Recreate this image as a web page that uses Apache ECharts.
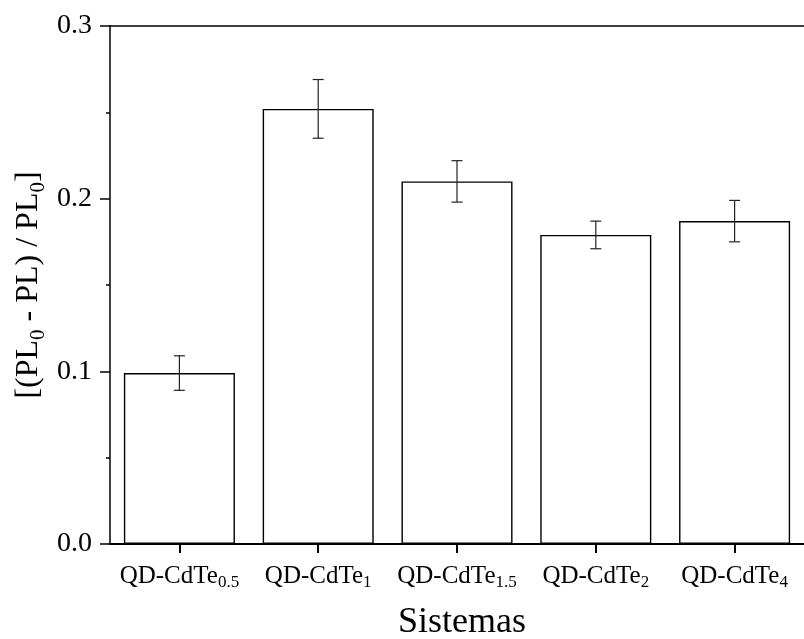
<!DOCTYPE html>
<html>
<head>
<meta charset="utf-8">
<script src="https://cdn.jsdelivr.net/npm/echarts@6/dist/echarts.min.js"></script>
<style>html,body{margin:0;padding:0;background:#fff}#c{width:804px;height:639px}</style>
</head>
<body>
<div id="c"></div>
<script>
var categories = ['QD-CdTe{s|0.5}', 'QD-CdTe{s|1}', 'QD-CdTe{s|1.5}', 'QD-CdTe{s|2}', 'QD-CdTe{s|4}'];
var values = [0.099, 0.252, 0.210, 0.179, 0.187];
var errors = [0.010, 0.017, 0.012, 0.008, 0.012];
var yTicks = [0.0, 0.1, 0.2, 0.3];

var FONT = '"Liberation Serif", "Times New Roman", serif';
var chart = echarts.init(document.getElementById('c'));
var errData = values.map(function (v, i) { return [i, v - errors[i], v + errors[i]]; });

chart.setOption({
  animation: false,
  grid: { left: 110, top: 26, width: 703, height: 518 },
  xAxis: [{
    type: 'category',
    data: categories,
    boundaryGap: true,
    axisLine: { show: true, lineStyle: { color: '#000', width: 2 } },
    axisTick: { show: true, alignWithLabel: true, length: 9, lineStyle: { color: '#000', width: 2 } },
    axisLabel: {
      interval: 0,
      hideOverlap: false,
      margin: 17,
      color: '#000',
      fontFamily: FONT,
      fontSize: 25,
      lineHeight: 30,
      rich: {
        s: { fontFamily: FONT, fontSize: 17, color: '#000', verticalAlign: 'bottom', lineHeight: 20, padding: [14, 0, 0, 0] }
      }
    },
    splitLine: { show: false }
  }, {
    type: 'category',
    data: categories,
    position: 'top',
    axisLine: { show: true, lineStyle: { color: '#000', width: 1.5 } },
    axisTick: { show: false },
    axisLabel: { show: false }
  }],
  yAxis: {
    type: 'value',
    min: 0,
    max: 0.3,
    interval: 0.1,
    axisLine: { show: true, lineStyle: { color: '#000', width: 1.5 } },
    axisTick: { show: true, length: 10, lineStyle: { color: '#000', width: 1.5 } },
    minorTick: { show: true, splitNumber: 2, length: 4, lineStyle: { color: '#000', width: 1.5 } },
    axisLabel: {
      margin: 18,
      color: '#000',
      fontFamily: FONT,
      fontSize: 28,
      formatter: function (v) {
        for (var i = 0; i < yTicks.length; i++) { if (Math.abs(yTicks[i] - v) < 1e-9) return yTicks[i].toFixed(1); }
        return '';
      }
    },
    splitLine: { show: false }
  },
  series: [{
    type: 'bar',
    data: values,
    barWidth: '80%',
    itemStyle: { color: '#fff', borderColor: '#000', borderWidth: 1.4 },
    z: 2
  }, {
    type: 'custom',
    data: errData,
    z: 3,
    renderItem: function (params, api) {
      var x = api.value(0);
      var lo = api.coord([x, api.value(1)]);
      var hi = api.coord([x, api.value(2)]);
      var hw = 5.5;
      var st = { stroke: '#222', lineWidth: 1.2 };
      return {
        type: 'group',
        children: [
          { type: 'line', shape: { x1: lo[0], y1: lo[1], x2: hi[0], y2: hi[1] }, style: st },
          { type: 'line', shape: { x1: lo[0] - hw, y1: lo[1], x2: lo[0] + hw, y2: lo[1] }, style: st },
          { type: 'line', shape: { x1: hi[0] - hw, y1: hi[1], x2: hi[0] + hw, y2: hi[1] }, style: st }
        ]
      };
    },
    encode: { x: 0, y: [1, 2] }
  }],
  graphic: [{
    type: 'text',
    x: 29,
    y: 285,
    rotation: Math.PI / 2,
    style: {
      text: '[(PL{s|0} - PL) / PL{s|0}]',
      fontFamily: FONT,
      fontSize: 32,
      fill: '#000',
      align: 'center',
      verticalAlign: 'middle',
      rich: {
        s: { fontFamily: FONT, fontSize: 21, fill: '#000', verticalAlign: 'bottom', padding: [18, 0, 0, 0] }
      }
    }
  }, {
    type: 'text',
    x: 462,
    y: 623,
    style: {
      text: 'Sistemas',
      fontFamily: FONT,
      fontSize: 36,
      fill: '#000',
      align: 'center',
      verticalAlign: 'middle'
    }
  }]
});
</script>
</body>
</html>
